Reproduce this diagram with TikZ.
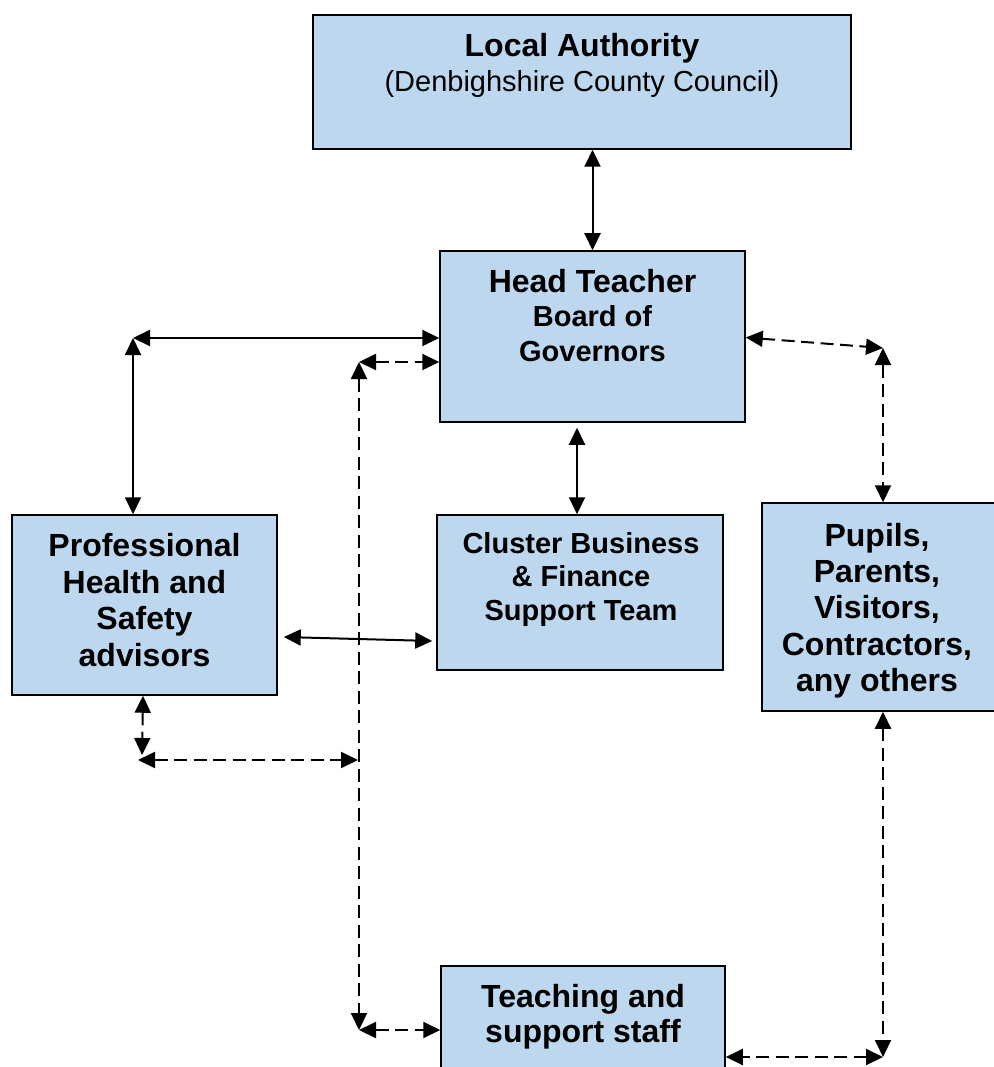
\documentclass[tikz,border=0pt]{standalone}
\usepackage{fontspec}
\setmainfont{Liberation Sans}
\usetikzlibrary{arrows.meta}
\definecolor{boxblue}{RGB}{189,215,238}
\newcommand{\headfont}[1]{\fontsize{32}{#1}\selectfont\bfseries}
\newcommand{\subfont}[1]{\fontsize{29}{#1}\selectfont\bfseries}
\begin{document}
\begin{tikzpicture}[x=1pt,y=-1pt,
  box/.style={draw=black, line width=1.5pt, fill=boxblue, inner sep=0pt},
  txt/.style={align=center, inner sep=0pt, anchor=north},
  link/.style={line width=2pt, {Triangle[length=17pt,width=16pt]}-{Triangle[length=17pt,width=16pt]}},
  dlink/.style={link, dash pattern=on 13pt off 6.5pt},
]
\useasboundingbox (0,0) rectangle (993,1067);

% boxes
\node[box, minimum width=538, minimum height=134] (la) at (582,82) {};
\node[box, minimum width=305, minimum height=171] (ht) at (592.5,336.5) {};
\node[box, minimum width=265, minimum height=180] (prof) at (144.5,605) {};
\node[box, minimum width=286, minimum height=155] (cl) at (580,592.5) {};
\node[box, minimum width=242, minimum height=208] (pu) at (883,607) {};
\node[box, minimum width=284, minimum height=144] (teach) at (583,1038) {};

% box texts
\node[txt, font=\headfont{35}] (latext) at (582,33)
  {Local Authority\\ \fontsize{29}{35}\selectfont\mdseries (Denbighshire County Council)};
\node[txt, font=\headfont{34.5}] (httext) at (592.5,269)
  {Head Teacher\\ \subfont{34.5}Board of\\ \subfont{34.5}Governors};
\node[txt, font=\headfont{36.7}] (proftext) at (144.5,533)
  {Professional\\Health and\\Safety\\advisors};
\node[txt, font=\subfont{33.5}] (cltext) at (581,532)
  {Cluster Business\\\& Finance\\Support Team};
\node[txt, font=\headfont{36.3}] (putext) at (877,523)
  {Pupils,\\Parents,\\Visitors,\\Contractors,\\any others};
\node[txt, font=\headfont{35}] (teachtext) at (583,984)
  {Teaching and\\support staff};

% corner points of the connectors
\coordinate (c1) at (133,338);
\coordinate (c2) at (359,362);
\coordinate (c3) at (359,1030);
\coordinate (c4) at (138,760);
\coordinate (c5) at (358,760);
\coordinate (c6) at (883,348);
\coordinate (c7) at (883,1057);

% solid connectors
\draw[link] (la.south -| ht.north) -- (ht.north);
\draw[link] ([xshift=-15.5pt,yshift=-5pt]ht.south) -- ([xshift=-3pt]cl.north);
\draw[link] (c1) -- (c1 -| ht.west);
\draw[link] (c1) -- (c1 |- prof.north);
\draw[link] ([xshift=6pt,yshift=-32pt]prof.east) -- ([xshift=-4pt,yshift=-48.5pt]cl.west);

% dashed connectors
\draw[dlink] (c2) -- (c2 -| ht.west);
\draw[dlink] (c2) -- (c3);
\draw[dlink] (c3) -- (c3 -| teach.west);
\draw[dlink] ([xshift=-1.5pt]prof.south) -- ([xshift=4pt,yshift=5pt]c4);
\draw[dlink] (c4) -- (c5);
\draw[dlink] ([yshift=-1pt]ht.east) -- (c6);
\draw[dlink] (c6) -- (pu.north);
\draw[dlink] (pu.south) -- (c7);
\draw[dlink] (c7) -- (c7 -| teach.east);
\end{tikzpicture}
\end{document}
